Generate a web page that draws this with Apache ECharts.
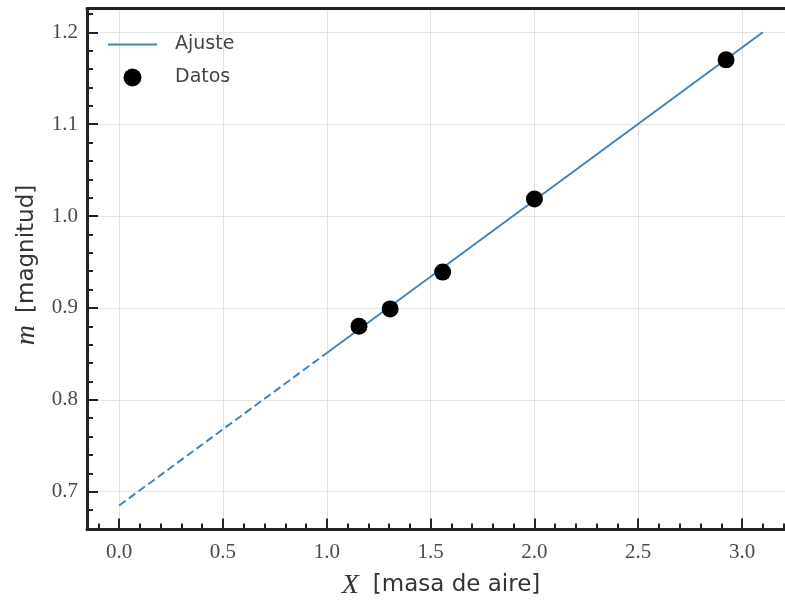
<!DOCTYPE html>
<html><head><meta charset="utf-8">
<script src="https://cdn.jsdelivr.net/npm/echarts@6/dist/echarts.min.js"></script>
<style>html,body{margin:0;padding:0;background:#fff}#c{width:785px;height:602px}</style>
</head><body><div id="c"></div>
<script>
const dataX = [1.155, 1.305, 1.558, 2.0, 2.923];
const dataY = [0.880, 0.899, 0.939, 1.0185, 1.170];
const fitSolidX = [1.0, 3.1];
const fitSolidY = [0.851, 1.200];
const fitDashX = [0.0, 1.0];
const fitDashY = [0.685, 0.851];
const xMajor = [0.0, 0.5, 1.0, 1.5, 2.0, 2.5, 3.0];
const xMinor = [-0.1, 0.1, 0.2, 0.3, 0.4, 0.6, 0.7, 0.8, 0.9, 1.1, 1.2, 1.3, 1.4, 1.6, 1.7, 1.8, 1.9, 2.1, 2.2, 2.3, 2.4, 2.6, 2.7, 2.8, 2.9, 3.1, 3.2];
const yMajor = [0.7, 0.8, 0.9, 1.0, 1.1, 1.2];
const yMinor = [0.66, 0.68, 0.72, 0.74, 0.76, 0.78, 0.82, 0.84, 0.86, 0.88, 0.92, 0.94, 0.96, 0.98, 1.02, 1.04, 1.06, 1.08, 1.12, 1.14, 1.16, 1.18, 1.22];
const xRange = [-0.155, 3.255];
const yRange = [0.659, 1.2258];

const zip = (a, b) => a.map((v, i) => [v, b[i]]);
const axisColor = '#222';
const labelFont = {fontFamily: 'Liberation Serif', fontSize: 21, color: '#4a4a4a'};
const gridColor = '#e3e3e3';
const lineColor = '#4084bd';

const chart = echarts.init(document.getElementById('c'), null, {renderer: 'canvas'});
chart.setOption({
  animation: false,
  backgroundColor: '#fff',
  grid: {left: 87, top: 8.6, right: -10, bottom: 72.6, containLabel: false, outerBoundsMode: 'none'},
  legend: {
    left: 103, top: 30, orient: 'vertical',
    itemWidth: 49, itemHeight: 18, itemGap: 14,
    textStyle: {fontFamily: 'DejaVu Sans', fontSize: 19, color: '#444', padding: [0, 0, 0, 13]},
    data: [
      {name: 'Ajuste', icon: 'path://M0,0 L49,0 L49,2 L0,2 Z'},
      {name: 'Datos', icon: 'circle'}
    ]
  },
  xAxis: [
    {
      type: 'value', min: xRange[0], max: xRange[1], position: 'bottom',
      name: '{i|X}{s|[masa de aire]}', nameLocation: 'middle', nameGap: 42,
      nameTextStyle: {rich: {
        i: {fontFamily: 'Liberation Serif', fontStyle: 'italic', fontSize: 28, color: '#333', padding: [0, 14, 0, 0]},
        s: {fontFamily: 'DejaVu Sans', fontSize: 23, color: '#333'}
      }},
      axisLine: {show: true, onZero: false, lineStyle: {color: axisColor, width: 3}},
      axisTick: {show: true, inside: true, length: 11, customValues: xMajor, lineStyle: {color: axisColor, width: 2}},
      axisLabel: {customValues: xMajor, margin: 13, formatter: v => v.toFixed(1), ...labelFont},
      splitLine: {show: true, lineStyle: {color: gridColor, width: 1}}
    },
    {
      type: 'value', min: xRange[0], max: xRange[1], position: 'bottom',
      axisLine: {show: false, onZero: false},
      axisTick: {show: true, inside: true, length: 6, customValues: xMinor, lineStyle: {color: axisColor, width: 2}},
      axisLabel: {show: false}, splitLine: {show: false}
    },
    {
      type: 'value', min: xRange[0], max: xRange[1], position: 'top',
      axisLine: {show: true, onZero: false, lineStyle: {color: axisColor, width: 3}},
      axisTick: {show: false}, axisLabel: {show: false}, splitLine: {show: false}
    }
  ],
  yAxis: [
    {
      type: 'value', min: yRange[0], max: yRange[1], position: 'left',
      name: '{i|m}{s|[magnitud]}', nameLocation: 'middle', nameGap: 46, nameRotate: 90,
      nameTextStyle: {padding: [0, 0, 0, 8], rich: {
        i: {fontFamily: 'Liberation Serif', fontStyle: 'italic', fontSize: 28, color: '#333', padding: [0, 12, 0, 0]},
        s: {fontFamily: 'DejaVu Sans', fontSize: 23, color: '#333'}
      }},
      axisLine: {show: true, onZero: false, lineStyle: {color: axisColor, width: 3}},
      axisTick: {show: true, inside: true, length: 11, customValues: yMajor, lineStyle: {color: axisColor, width: 2}},
      axisLabel: {customValues: yMajor, margin: 9, formatter: v => v.toFixed(1), ...labelFont},
      splitLine: {show: true, lineStyle: {color: gridColor, width: 1}}
    },
    {
      type: 'value', min: yRange[0], max: yRange[1], position: 'left',
      axisLine: {show: false, onZero: false},
      axisTick: {show: true, inside: true, length: 6, customValues: yMinor, lineStyle: {color: axisColor, width: 2}},
      axisLabel: {show: false}, splitLine: {show: false}
    }
  ],
  series: [
    {
      name: 'Ajuste', type: 'line', xAxisIndex: 0, yAxisIndex: 0,
      data: zip(fitSolidX, fitSolidY), symbol: 'none', z: 2,
      lineStyle: {color: lineColor, width: 2}, itemStyle: {color: lineColor}
    },
    {
      name: 'AjusteExt', type: 'line', xAxisIndex: 0, yAxisIndex: 0,
      data: zip(fitDashX, fitDashY), symbol: 'none', z: 2,
      lineStyle: {color: lineColor, width: 2, type: [8, 4]}
    },
    {
      name: 'Datos', type: 'scatter', xAxisIndex: 0, yAxisIndex: 0,
      data: zip(dataX, dataY), symbol: 'circle', symbolSize: 17, z: 3,
      itemStyle: {color: '#000', opacity: 1}
    }
  ]
});
</script></body></html>
